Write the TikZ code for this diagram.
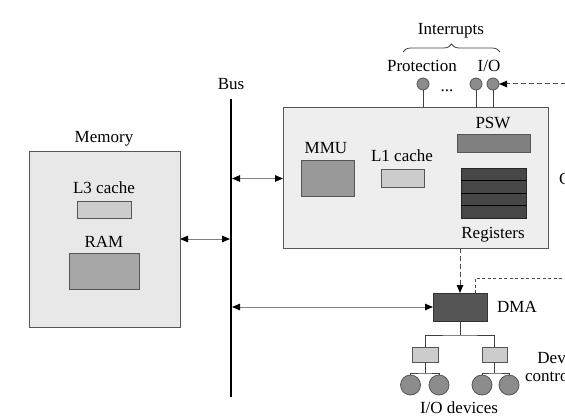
\documentclass[tikz,border=0pt]{standalone}
\usepackage{fontspec}
\setmainfont{Liberation Serif}
\usetikzlibrary{arrows.meta,decorations.pathreplacing,calc}
\definecolor{boxline}{HTML}{555555}
\definecolor{cpufill}{HTML}{EEEEEE}
\definecolor{memfill}{HTML}{E8E8E8}
\definecolor{lightfill}{HTML}{CCCCCC}
\definecolor{midfill}{HTML}{A6A6A6}
\definecolor{mmufill}{HTML}{999999}
\definecolor{pswfill}{HTML}{808080}
\definecolor{regfill}{HTML}{474747}
\definecolor{dmafill}{HTML}{555555}
\definecolor{pinfill}{HTML}{8C8C8C}
\begin{document}
\begin{tikzpicture}[x=1pt,y=-1pt,
  every node/.style={font=\fontsize{17}{20}\selectfont, inner sep=0pt, outer sep=0pt},
  txt/.style={anchor=base},
  box/.style={draw=boxline, line width=0.8pt, anchor=north west},
  pin/.style={circle, draw=boxline, line width=0.8pt, fill=pinfill, minimum size=12pt},
  dev/.style={circle, draw=boxline, line width=0.8pt, fill=pinfill, minimum size=20pt},
  conn/.style={draw=black!50, line width=1pt},
  wire/.style={draw=black!75, line width=0.8pt},
  tip/.style={{Triangle[length=8pt,width=6.5pt,color=black,fill=black]}-{Triangle[length=8pt,width=6.5pt,color=black,fill=black]}},
  rtip/.style={-{Triangle[length=8pt,width=6.5pt,color=black,fill=black]}},
  dashline/.style={draw=black!70, line width=1pt, dash pattern=on 5pt off 3pt},
  dotline/.style={draw=black!70, line width=0.8pt, dash pattern=on 3pt off 2.5pt},
]
\useasboundingbox (0,0) rectangle (565,420);
\clip (0,0) rectangle (565,420);

% Memory
\node[box, fill=memfill, minimum width=151pt, minimum height=176pt] (mem) at (29,151) {};
\node[txt] (memlbl) at (104,142) {Memory};
\node[txt] (l3lbl) at (104,193) {L3 cache};
\node[box, fill=lightfill, minimum width=54pt, minimum height=17pt] (l3) at (77,201) {};
\node[txt] (ramlbl) at (104,247) {RAM};
\node[box, fill=midfill, minimum width=70pt, minimum height=36pt] (ram) at (69,253) {};

% Bus
\coordinate (bustop) at (231,99);
\coordinate (busbot) at (231,397);
\draw[line width=2pt] (bustop) -- (busbot);
\node[txt] (buslbl) at (231,89) {Bus};

% CPU
\node[box, fill=cpufill, minimum width=265pt, minimum height=141pt] (cpu) at (283,107) {};
\node[txt, anchor=base west] (cpulbl) at (559,184) {CPU};
\node[txt] (mmulbl) at (326,153) {MMU};
\node[box, fill=mmufill, minimum width=53pt, minimum height=36pt] (mmu) at (301,160) {};
\node[txt] (l1lbl) at (402,161) {L1 cache};
\node[box, fill=lightfill, minimum width=43pt, minimum height=18pt] (l1) at (381,169) {};
\node[txt] (pswlbl) at (493,128) {PSW};
\node[box, fill=pswfill, minimum width=73pt, minimum height=18pt] (psw) at (457,134) {};
\node[box, fill=regfill, draw=black!85, minimum width=65pt, minimum height=50pt] (reg) at (461,168) {};
\foreach \f in {0.25,0.5,0.75}
  \draw[black, line width=0.9pt] ($(reg.north west)!\f!(reg.south west)$) -- ($(reg.north east)!\f!(reg.south east)$);
\node[txt] (reglbl) at (493,238) {Registers};

% Interrupt pins
\node[pin] (p1) at (423,84) {};
\node[pin] (p2) at (476,84) {};
\node[pin] (p3) at (493,84) {};
\foreach \p in {p1,p2,p3}
  \draw[wire] (\p.south) -- (\p.south |- cpu.north);
\node[txt] (dots) at (447,92) {...};
\node[txt] (protlbl) at (422,71) {Protection};
\node[txt] (iolbl) at (489,71) {I/O};
\draw[wire, decorate, decoration={brace, amplitude=8pt}] (403,52) -- (500,52);
\node[txt] (intlbl) at (451,35) {Interrupts};
\coordinate (ioin) at (566,84);
\draw[dashline, rtip] (ioin) -- (p3.east);

% Bus connectors
\draw[conn, tip] (mem.east) -- ($(mem.east -| bustop)+(-1,0)$);
\draw[conn, tip] ($(cpu.west)+(0,1)$) -- ($(cpu.west -| bustop)+(1,1)$);

% DMA
\node[box, fill=dmafill, draw=black!80, minimum width=54pt, minimum height=28pt] (dma) at (433,293) {};
\node[txt] (dmalbl) at (517,312) {DMA};
\draw[conn, tip] (dma.west) -- ($(dma.west -| bustop)+(1,0)$);
\draw[dashline, rtip] (dma.north |- cpu.south) -- (dma.north);
\coordinate (dmaout) at (566,278);
\draw[dotline] ($(dma.north)+(15,0)$) |- (dmaout);

% Device controllers
\node[box, fill=lightfill, minimum width=26pt, minimum height=15pt] (c1) at (412,347) {};
\node[box, fill=lightfill, minimum width=25pt, minimum height=15pt] (c2) at (482,347) {};
\coordinate (j) at (dma.south |- 0,335);
\draw[wire] (dma.south) -- (j);
\draw[wire] (c1.north) |- (j) -| (c2.north);
\node[align=center, font=\fontsize{17}{18}\selectfont] (ctrllbl) at (561.5,367) {Device\\controllers};

% I/O devices
\node[dev] (d1) at (410.5,385) {};
\node[dev] (d2) at (439,385) {};
\node[dev] (d3) at (482,385) {};
\node[dev] (d4) at (509,385) {};
\coordinate (k1) at (c1.south |- 0,373);
\coordinate (k2) at (c2.south |- 0,373);
\draw[wire] (c1.south) -- (k1);
\draw[wire] (c2.south) -- (k2);
\draw[wire] (d1.north) |- (k1) -| (d2.north);
\draw[wire] (d3.north) |- (k2) -| (d4.north);
\node[txt] (devlbl) at (459,413) {I/O devices};
\end{tikzpicture}
\end{document}
